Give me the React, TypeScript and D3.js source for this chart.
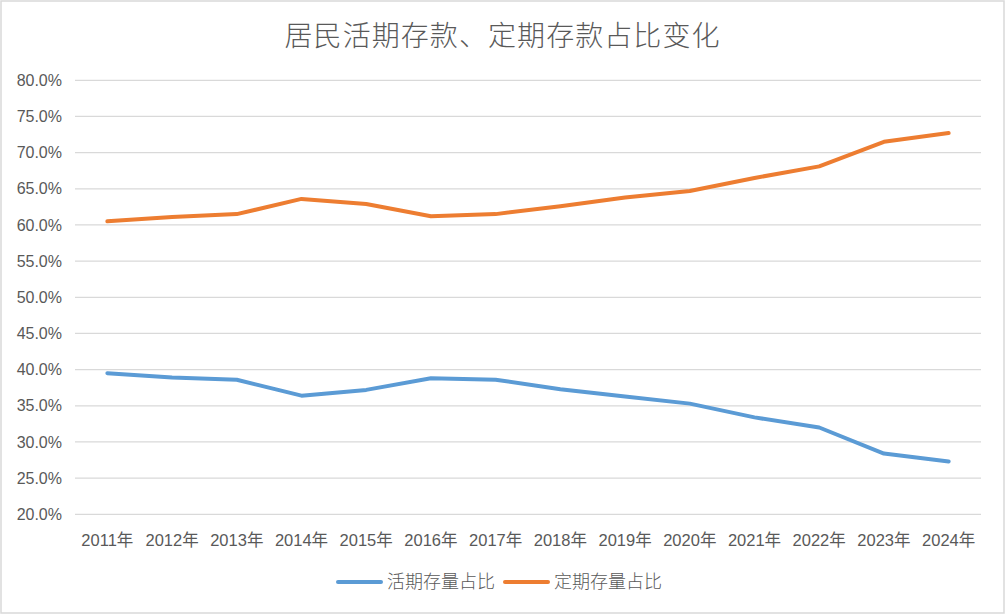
import * as d3 from 'd3';
import React, { useEffect, useRef } from 'react';

const years = ['2011年', '2012年', '2013年', '2014年', '2015年', '2016年', '2017年', '2018年', '2019年', '2020年', '2021年', '2022年', '2023年', '2024年'];
const demand = [39.5, 38.9, 38.6, 36.4, 37.2, 38.8, 38.6, 37.3, 36.3, 35.3, 33.4, 32.0, 28.4, 27.3];
const fixed = [60.5, 61.1, 61.5, 63.6, 62.9, 61.2, 61.5, 62.6, 63.8, 64.7, 66.5, 68.1, 71.5, 72.7];
const yTicks = [20, 25, 30, 35, 40, 45, 50, 55, 60, 65, 70, 75, 80];
const seriesNames = ['活期存量占比', '定期存量占比'];

const W = 1005;
const H = 614;
const font = "'Liberation Sans', 'Noto Sans CJK SC', sans-serif";

const App = () => {
  const svgRef = useRef(null);

  useEffect(() => {
    const svg = d3.select(svgRef.current);
    svg.selectAll('*').remove();

    svg.append('rect')
      .attr('x', 1).attr('y', 1)
      .attr('width', W - 2).attr('height', H - 2)
      .attr('fill', '#fff').attr('stroke', '#d9d9d9').attr('stroke-width', 1.5);

    const x = d3.scalePoint().domain(years).range([75, 981]).padding(0.5);
    const y = d3.scaleLinear().domain([20, 80]).range([514.3, 80.3]);

    // gridlines
    svg.append('g')
      .selectAll('line')
      .data(yTicks)
      .join('line')
      .attr('x1', 75).attr('x2', 981)
      .attr('y1', (d) => y(d)).attr('y2', (d) => y(d))
      .attr('stroke', '#d9d9d9').attr('stroke-width', 1.2);

    // y labels
    svg.append('g')
      .selectAll('text')
      .data(yTicks)
      .join('text')
      .attr('x', 62)
      .attr('y', (d) => y(d))
      .attr('dy', '0.35em')
      .attr('text-anchor', 'end')
      .attr('font-family', font)
      .attr('font-size', 16)
      .attr('fill', '#595959')
      .text((d) => d.toFixed(1) + '%');

    // x labels
    svg.append('g')
      .selectAll('text')
      .data(years)
      .join('text')
      .attr('x', (d) => x(d))
      .attr('y', 540)
      .attr('dy', '0.35em')
      .attr('text-anchor', 'middle')
      .attr('font-family', font)
      .attr('font-size', 16.5)
      .attr('fill', '#595959')
      .text((d) => d);

    const line = d3.line()
      .x((d, i) => x(years[i]))
      .y((d) => y(d));

    const colors = ['#5B9BD5', '#ED7D31'];
    [demand, fixed].forEach((s, i) => {
      svg.append('path')
        .datum(s)
        .attr('d', line)
        .attr('fill', 'none')
        .attr('stroke', colors[i])
        .attr('stroke-width', 4)
        .attr('stroke-linejoin', 'round')
        .attr('stroke-linecap', 'round');
    });

    // title
    svg.append('text')
      .attr('x', 502)
      .attr('y', 36)
      .attr('dy', '0.35em')
      .attr('text-anchor', 'middle')
      .attr('font-family', "'Noto Sans CJK SC', sans-serif")
      .attr('font-weight', 300)
      .attr('font-size', 28)
      .attr('fill', '#595959')
      .attr('textLength', 435)
      .attr('lengthAdjust', 'spacing')
      .text('居民活期存款、定期存款占比变化');

    // legend
    const legendX = [338, 505];
    seriesNames.forEach((name, i) => {
      const g = svg.append('g').attr('transform', `translate(${legendX[i]},582)`);
      g.append('line')
        .attr('x1', 0).attr('x2', 43)
        .attr('stroke', colors[i]).attr('stroke-width', 4).attr('stroke-linecap', 'round');
      g.append('text')
        .attr('x', 49)
        .attr('dy', '0.35em')
        .attr('font-family', "'Noto Sans CJK SC', sans-serif")
        .attr('font-weight', 300)
        .attr('font-size', 18)
        .attr('fill', '#595959')
        .text(name);
    });
  }, []);

  return (
    <svg
      ref={svgRef}
      width={W}
      height={H}
      style={{ position: 'absolute', left: 0, top: 0, display: 'block' }}
    />
  );
};

export default App;
